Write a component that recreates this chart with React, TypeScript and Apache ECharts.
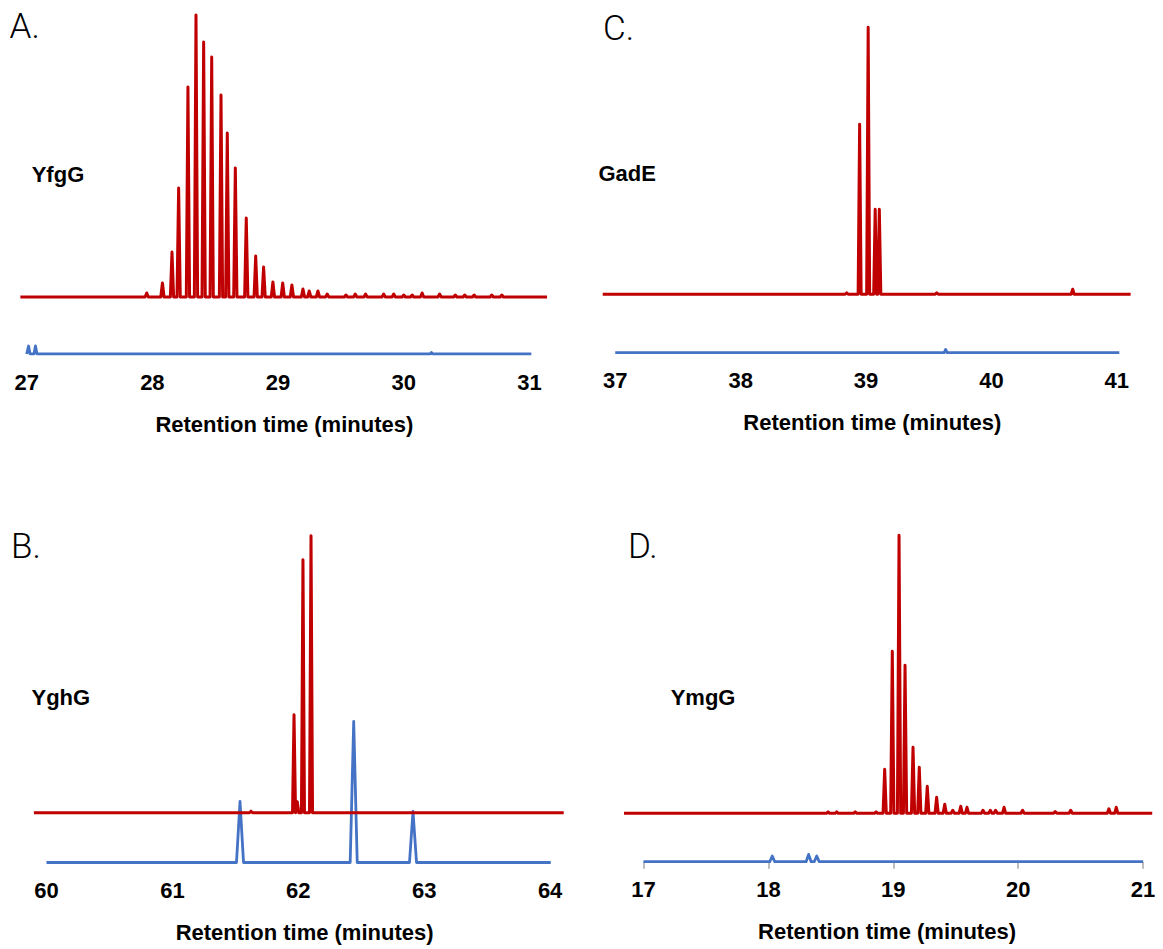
import React, { useEffect, useRef } from "react";
import * as echarts from "echarts";

// ---------- Data (retention time in minutes, intensity in arbitrary units) ----------
// Panel A – YfgG
const A_TICKS = [27, 28, 29, 30, 31];
const A_RED_RANGE = [26.95, 31.14];
const A_RED_T = [27.955, 28.08, 28.156, 28.209, 28.283, 28.347, 28.408, 28.472, 28.546, 28.596, 28.66, 28.747, 28.822, 28.885, 28.959, 29.037, 29.11, 29.198, 29.248, 29.317, 29.391, 29.54, 29.614, 29.696, 29.84, 29.92, 30.0, 30.067, 30.146, 30.285, 30.41, 30.485, 30.56, 30.7, 30.78];
const A_RED_H = [4, 14, 45, 109, 210, 282, 255, 240, 202, 164, 129, 79, 41, 30, 15, 14, 12, 8, 6, 6, 3, 2, 3, 3, 3, 3, 2, 2, 4, 3, 2, 2, 2, 2, 2];
const A_BLUE_RANGE = [27.0, 31.015];
const A_BLUE_T = [27.015, 27.07, 30.22];
const A_BLUE_H = [8, 8, 1.5];

// Panel C – GadE
const C_TICKS = [37, 38, 39, 40, 41];
const C_RED_RANGE = [36.9, 41.11];
const C_RED_T = [38.846, 38.949, 39.017, 39.073, 39.106, 39.564, 40.648];
const C_RED_H = [1.5, 170, 267, 85, 85, 1.5, 5];
const C_BLUE_RANGE = [37.0, 41.02];
const C_BLUE_T = [39.635];
const C_BLUE_H = [3.3];

// Panel B – YghG
const B_TICKS = [60, 61, 62, 63, 64];
const B_RED_RANGE = [59.9, 64.108];
const B_RED_T = [61.624, 61.966, 61.992, 62.037, 62.101];
const B_RED_H = [1.5, 98, 11, 253, 277];
const B_BLUE_RANGE = [60.0, 64.005];
const B_BLUE_T = [61.537, 62.44, 62.911];
const B_BLUE_H = [61, 141, 51];

// Panel D – YmgG
const D_TICKS = [17, 18, 19, 20, 21];
const D_RED_RANGE = [16.844, 21.073];
const D_RED_T = [18.478, 18.547, 18.695, 18.862, 18.931, 18.992, 19.046, 19.094, 19.158, 19.208, 19.272, 19.347, 19.412, 19.476, 19.54, 19.59, 19.718, 19.777, 19.819, 19.887, 20.035, 20.296, 20.42, 20.726, 20.785];
const D_RED_H = [1.5, 1.5, 1.5, 1.5, 44, 162, 278, 148, 66, 46, 27, 16, 9, 3, 7, 6, 3, 3, 3, 6, 3, 1.7, 3, 4.5, 6];
const D_BLUE_RANGE = [17.0, 21.0];
const D_BLUE_T = [18.031, 18.322, 18.387];
const D_BLUE_H = [5.7, 7.3, 5.7];

const AXIS_NAME = "Retention time (minutes)";

// ---------- Styling / layout ----------
const RED = "#C00000";
const BLUE = "#4472C4";
const FONT = "'Liberation Sans', Arial, Helvetica, sans-serif";

function trace(range: number[], times: number[], heights: number[], hw: number, offset: number) {
  const pts: number[][] = [[range[0], offset]];
  times.forEach((t, i) => {
    pts.push([t - hw, offset], [t, offset + heights[i]], [t + hw, offset]);
  });
  pts.push([range[1], offset]);
  return pts;
}

type Panel = {
  grid: { left: number; top: number; width: number; height: number };
  min: number;
  max: number;
  ticks: number[];
  showTicks: boolean;
  offset: number;
  red: number[][];
  blue: number[][];
};

const YMAX = 340;

const panels: Panel[] = [
  {
    grid: { left: 14.1, top: 14, width: 540.5, height: YMAX },
    min: 26.9, max: 31.2, ticks: A_TICKS, showTicks: false, offset: 57,
    red: trace(A_RED_RANGE, A_RED_T, A_RED_H, 0.013, 57),
    blue: trace(A_BLUE_RANGE, A_BLUE_T, A_BLUE_H, 0.012, 0),
  },
  {
    grid: { left: 602.7, top: 12.7, width: 539.2, height: YMAX },
    min: 36.9, max: 41.2, ticks: C_TICKS, showTicks: false, offset: 58.4,
    red: trace(C_RED_RANGE, C_RED_T, C_RED_H, 0.012, 58.4),
    blue: trace(C_BLUE_RANGE, C_BLUE_T, C_BLUE_H, 0.012, 0),
  },
  {
    grid: { left: 33.9, top: 522.5, width: 541.4, height: YMAX },
    min: 59.9, max: 64.2, ticks: B_TICKS, showTicks: false, offset: 49.8,
    red: trace(B_RED_RANGE, B_RED_T, B_RED_H, 0.012, 49.8),
    blue: trace(B_BLUE_RANGE, B_BLUE_T, B_BLUE_H, 0.028, 0),
  },
  {
    grid: { left: 618.5, top: 521.7, width: 537.1, height: YMAX },
    min: 16.8, max: 21.1, ticks: D_TICKS, showTicks: true, offset: 48.4,
    red: trace(D_RED_RANGE, D_RED_T, D_RED_H, 0.013, 48.4),
    blue: trace(D_BLUE_RANGE, D_BLUE_T, D_BLUE_H, 0.02, 0),
  },
];

const panelLabels = [
  { letter: "A.", lx: 9.5, ly: 26, name: "YfgG", nx: 31.7, ny: 174 },
  { letter: "C.", lx: 603, ly: 28, name: "GadE", nx: 598.5, ny: 173.5 },
  { letter: "B.", lx: 11, ly: 546, name: "YghG", nx: 31.5, ny: 697 },
  { letter: "D.", lx: 628, ly: 546, name: "YmgG", nx: 670.7, ny: 697 },
];

export default function App() {
  const ref = useRef<HTMLDivElement>(null);

  useEffect(() => {
    if (!ref.current) return;
    const chart = echarts.init(ref.current, undefined, { renderer: "svg" });

    const grids = panels.map((p) => ({ ...p.grid, containLabel: false }));
    const xAxes = panels.map((p, i) => ({
      type: "value",
      gridIndex: i,
      min: p.min,
      max: p.max,
      axisLine: { show: p.showTicks, lineStyle: { color: "rgba(0,0,0,0)" } },
      splitLine: { show: false },
      axisTick: {
        show: p.showTicks,
        customValues: p.ticks,
        length: 7,
        lineStyle: { color: "#a8a8a8", width: 1.5 },
      },
      axisLabel: {
        customValues: p.ticks,
        fontSize: 22,
        fontWeight: "bold",
        color: "#000",
        fontFamily: FONT,
        margin: 17,
      },
      name: AXIS_NAME,
      nameLocation: "middle",
      nameGap: 59,
      nameTextStyle: { fontSize: 22, fontWeight: "bold", color: "#000", fontFamily: FONT },
    }));
    const yAxes = panels.map((p, i) => ({
      type: "value",
      gridIndex: i,
      min: 0,
      max: YMAX,
      show: false,
    }));
    const series: any[] = [];
    panels.forEach((p, i) => {
      series.push({
        type: "line",
        xAxisIndex: i,
        yAxisIndex: i,
        data: p.blue,
        symbol: "none",
        lineStyle: { color: BLUE, width: 2.8, join: "round" },
        z: 2,
      });
      series.push({
        type: "line",
        xAxisIndex: i,
        yAxisIndex: i,
        data: p.red,
        symbol: "none",
        lineStyle: { color: RED, width: 3, join: "round" },
        z: 3,
      });
    });

    const graphic: any[] = [];
    panelLabels.forEach((l) => {
      graphic.push({
        type: "text",
        x: l.lx,
        y: l.ly,
        style: {
          text: l.letter,
          fontSize: 35,
          fontFamily: "Roboto, 'Liberation Sans', Arial, sans-serif",
          fontWeight: 300,
          fill: "#000",
          align: "left",
          verticalAlign: "middle",
        },
      });
      graphic.push({
        type: "text",
        x: l.nx,
        y: l.ny,
        style: {
          text: l.name,
          fontSize: 22,
          fontFamily: FONT,
          fontWeight: "bold",
          fill: "#000",
          align: "left",
          verticalAlign: "middle",
        },
      });
    });

    chart.setOption({
      animation: false,
      backgroundColor: "#ffffff",
      grid: grids,
      xAxis: xAxes,
      yAxis: yAxes,
      series,
      graphic,
    });

    return () => chart.dispose();
  }, []);

  return (
    <div
      ref={ref}
      style={{ position: "absolute", left: 0, top: 0, width: 1163, height: 949 }}
    />
  );
}
